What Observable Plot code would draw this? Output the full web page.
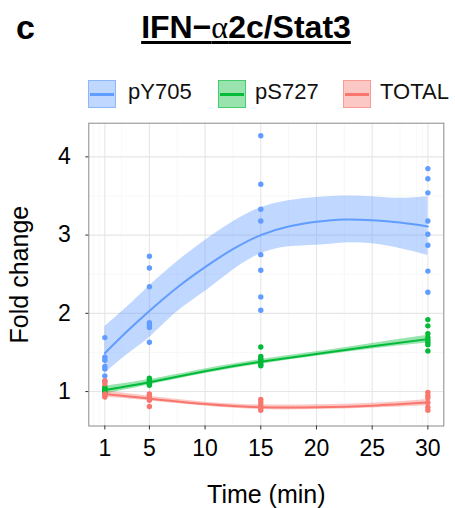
<!DOCTYPE html>
<html><head><meta charset="utf-8">
<script src="https://cdn.jsdelivr.net/npm/d3@7"></script>
<script src="https://cdn.jsdelivr.net/npm/@observablehq/plot@0.6"></script>
<style>
body{margin:0;background:#fff;font-family:"Liberation Sans",Arial,sans-serif;}
#wrap{width:455px;}
#head{position:relative;height:110px;width:455px;}
#tag{position:absolute;left:16px;top:10px;font-weight:bold;font-size:34px;line-height:1;}
#title{position:absolute;left:0;top:11px;width:492px;text-align:center;font-weight:bold;font-size:32px;line-height:1;
  text-decoration:underline;text-decoration-thickness:2.5px;text-underline-offset:3px;}
#title .greek{font-family:"Liberation Serif",serif;font-weight:normal;}
.key{position:absolute;top:80px;width:26px;height:26px;border:1px solid;}
.key .ln{position:absolute;left:1px;right:1px;top:11.5px;height:3px;}
.lab{position:absolute;top:80.7px;font-size:22px;line-height:1;font-family:"Liberation Sans",Arial,sans-serif;color:#111;}
</style></head>
<body>
<div id="wrap">
  <div id="head">
    <div id="tag">c</div>
    <div id="title">IFN&#8722;<span class="greek">α</span>2c/Stat3</div>
    <div id="legend"></div>
  </div>
  <div id="chart"></div>
</div>
<script>
// ---- data ----
const series = ["pY705", "pS727", "TOTAL"];
const colors = ["#619CFF", "#00BA38", "#F8766D"];
const sampleTimes = [1, 5, 15, 30];

// measured points, one inner array per sample time
const pY705 = [
  [1.69, 1.44, 1.40, 1.32, 1.29, 1.20, 1.13],
  [2.73, 2.58, 2.34, 1.88, 1.85, 1.82, 1.63],
  [4.27, 3.65, 3.33, 3.18, 2.75, 2.55, 2.21, 2.04],
  [3.85, 3.72, 3.54, 3.18, 3.01, 2.87, 2.54, 2.27]
];
const pS727 = [
  [1.06, 1.04, 1.03, 1.02, 1.00, 0.99],
  [1.17, 1.15, 1.13, 1.11, 1.10, 1.08],
  [1.57, 1.45, 1.42, 1.40, 1.38, 1.35, 1.33],
  [1.92, 1.84, 1.74, 1.69, 1.66, 1.63, 1.60, 1.52]
];
const TOTAL = [
  [1.14, 1.10, 0.97, 0.95, 0.93],
  [0.97, 0.95, 0.92, 0.89, 0.81],
  [0.90, 0.86, 0.82, 0.79, 0.76],
  [0.99, 0.95, 0.92, 0.86, 0.80, 0.76]
];

// smoothed fits and confidence bands
const fitTimesY = [1, 3, 5, 7.5, 10, 12.5, 15, 17.5, 20, 22.5, 25, 27.5, 30];
const pY705Fit = [1.49, 1.77, 2.03, 2.33, 2.59, 2.82, 3.00, 3.11, 3.17, 3.20, 3.19, 3.16, 3.11];
const pY705Lo  = [1.23, 1.47, 1.69, 2.02, 2.28, 2.55, 2.76, 2.85, 2.87, 2.90, 2.89, 2.83, 2.74];
const pY705Hi  = [1.83, 2.08, 2.35, 2.66, 2.93, 3.17, 3.35, 3.44, 3.48, 3.50, 3.49, 3.47, 3.49];

const fitTimes = [1, 5, 10, 15, 20, 25, 30];
const pS727Fit = [1.02, 1.12, 1.26, 1.38, 1.48, 1.58, 1.67];
const pS727Lo  = [0.97, 1.085, 1.23, 1.35, 1.45, 1.545, 1.62];
const pS727Hi  = [1.07, 1.155, 1.29, 1.41, 1.51, 1.615, 1.72];
const totalFit = [0.97, 0.91, 0.84, 0.80, 0.80, 0.82, 0.86];
const totalLo  = [0.93, 0.88, 0.815, 0.77, 0.77, 0.79, 0.82];
const totalHi  = [1.01, 0.94, 0.865, 0.83, 0.83, 0.85, 0.90];

const xTicks = [1, 5, 10, 15, 20, 25, 30];
const yTicks = [1, 2, 3, 4];
const xMinor = [0, 0.5, 2.5, 7.5, 12.5, 17.5, 22.5, 27.5, 29, 29.5];
const yMinor = [1.5, 2.5, 3.5];

// ---- build tables ----
const points = [];
[pY705, pS727, TOTAL].forEach((arr, si) => {
  arr.forEach((vals, ti) => vals.forEach(v => points.push({series: series[si], t: sampleTimes[ti], v})));
});
const fits = [];
fitTimesY.forEach((t, i) => fits.push({series: "pY705", t, fit: pY705Fit[i], lo: pY705Lo[i], hi: pY705Hi[i]}));
fitTimes.forEach((t, i) => fits.push({series: "pS727", t, fit: pS727Fit[i], lo: pS727Lo[i], hi: pS727Hi[i]}));
fitTimes.forEach((t, i) => fits.push({series: "TOTAL", t, fit: totalFit[i], lo: totalLo[i], hi: totalHi[i]}));

// ---- legend ----
const legendLeft = [88, 218, 343];
const labelLeft = [128, 255, 380];
const legend = document.getElementById("legend");
series.forEach((s, i) => {
  const c = d3.color(colors[i]);
  const key = document.createElement("div");
  key.className = "key";
  key.style.left = legendLeft[i] + "px";
  const f = d3.color(colors[i]); f.opacity = 0.4;
  const b = d3.color(colors[i]); b.opacity = 0.55;
  key.style.background = f.formatRgb();
  key.style.borderColor = b.formatRgb();
  const ln = document.createElement("div");
  ln.className = "ln";
  ln.style.background = c.formatRgb();
  key.appendChild(ln);
  legend.appendChild(key);
  const lab = document.createElement("div");
  lab.className = "lab";
  lab.style.left = labelLeft[i] + "px";
  lab.textContent = s;
  legend.appendChild(lab);
});

// ---- plot ----
const plot = Plot.plot({
  width: 455,
  height: 398,
  marginTop: 12.7,
  marginBottom: 82.5,
  marginLeft: 88.3,
  marginRight: 11.7,
  style: {fontFamily: "Liberation Sans, Arial, sans-serif", background: "#fff"},
  x: {domain: [-0.44, 31.43]},
  y: {domain: [0.56, 4.43]},
  color: {domain: series, range: colors},
  marks: [
    Plot.ruleX(xMinor, {stroke: "#f3f3f3", strokeWidth: 0.6}),
    Plot.ruleY(yMinor, {stroke: "#f3f3f3", strokeWidth: 0.6}),
    Plot.ruleX(xTicks, {stroke: "#e6e6e6", strokeWidth: 1.1}),
    Plot.ruleY(yTicks, {stroke: "#e6e6e6", strokeWidth: 1.1}),
    Plot.areaY(fits, {x: "t", y1: "lo", y2: "hi", fill: "series", fillOpacity: 0.4, curve: "natural"}),
    Plot.line(fits, {x: "t", y: "fit", stroke: "series", strokeWidth: 2, curve: "natural"}),
    Plot.dot(points, {x: "t", y: "v", fill: "series", r: 2.7}),
    Plot.frame({stroke: "#8a8a8a", strokeWidth: 1}),
    Plot.axisX(xTicks, {tickSize: 4, tickPadding: 10, fontSize: 23, fill: "#000", stroke: "#333",
      tickFormat: d => String(d),
      label: "Time (min)", labelArrow: "none", labelAnchor: "center", labelOffset: 77}),
    Plot.axisY(yTicks, {tickSize: 3, tickPadding: 15, fontSize: 23, fill: "#000", stroke: "#333",
      tickFormat: d => String(d),
      label: "Fold change", labelArrow: "none", labelAnchor: "center", labelOffset: 79})
  ]
});
document.getElementById("chart").appendChild(plot);
d3.select(plot).selectAll('g[aria-label="x-axis label"] text, g[aria-label="y-axis label"] text')
  .attr("font-size", 25)
  .each(function() { this.textContent = this.textContent.replace(/\s*[\u2190-\u2193]\s*/g, "").trim(); });
</script>
</body></html>
